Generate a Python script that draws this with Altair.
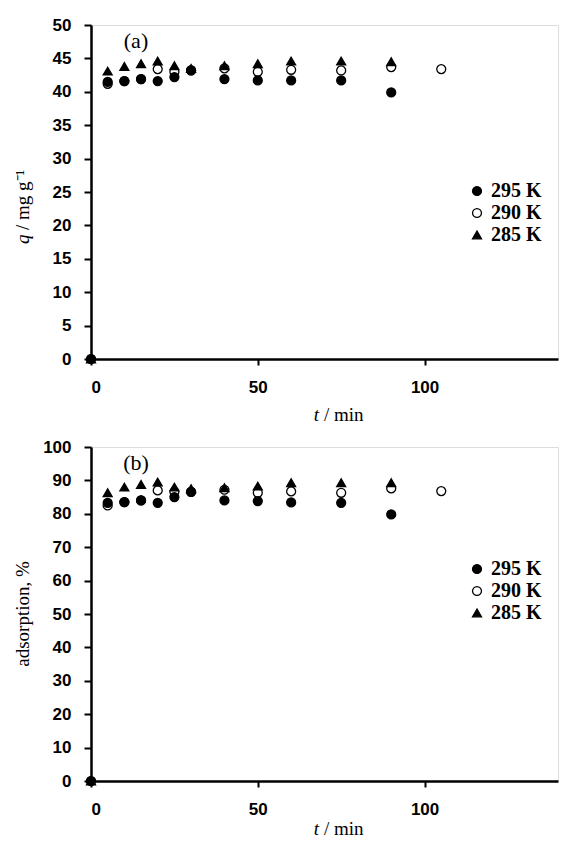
import altair as alt
import pandas as pd

# time points (min)
t_295 = [0, 5, 10, 15, 20, 25, 30, 40, 50, 60, 75, 90]
t_290 = [0, 5, 10, 15, 20, 25, 30, 40, 50, 60, 75, 90, 105]
t_285 = [0, 5, 10, 15, 20, 25, 30, 40, 50, 60, 75, 90]

# (a) q / mg g-1
q_295 = [0, 41.5, 41.6, 41.9, 41.6, 42.2, 43.2, 41.9, 41.7, 41.7, 41.7, 39.9]
q_290 = [0, 41.2, 41.6, 41.9, 43.4, 43.0, 43.2, 43.5, 43.0, 43.3, 43.2, 43.7, 43.4]
q_285 = [0, 43.1, 43.8, 44.2, 44.6, 43.9, 43.5, 43.9, 44.2, 44.6, 44.6, 44.5]

# (b) adsorption, %
a_295 = [0, 83.3, 83.5, 84.0, 83.3, 85.0, 86.6, 84.0, 83.8, 83.4, 83.3, 79.8]
a_290 = [0, 82.5, 83.5, 84.0, 87.0, 86.6, 86.6, 87.2, 86.3, 86.7, 86.3, 87.6, 86.8]
a_285 = [0, 86.3, 88.0, 88.8, 89.5, 88.0, 87.5, 87.8, 88.3, 89.3, 89.3, 89.3]

series = ["295 K", "290 K", "285 K"]
draw_order = {"290 K": 0, "285 K": 1, "295 K": 2}


def make_df(vals):
    rows = []
    for name, ts, vs in zip(series, [t_295, t_290, t_285], vals):
        for t, v in zip(ts, vs):
            rows.append({"t": t, "v": v, "series": name, "o": draw_order[name]})
    return pd.DataFrame(rows).sort_values("o", kind="stable")


W, H = 467, 334
serif = "Liberation Serif"
sans = "Arial, Liberation Sans, sans-serif"


def txt(s, x, y, italic=False, angle=0, align="center", size=19):
    kw = dict(font=serif, fontSize=size, color="black", align=align,
              baseline="middle", angle=angle)
    if italic:
        kw["fontStyle"] = "italic"
    return alt.Chart(pd.DataFrame({"s": [s]})).mark_text(**kw).encode(
        text="s:N", x=alt.value(x), y=alt.value(y))


def panel(df, ymax, ystep, ytitle_parts, tag, legend_y, xt_y):
    shape_scale = alt.Scale(domain=series, range=["circle", "circle", "triangle-up"])
    fill_scale = alt.Scale(domain=series, range=["black", "white", "black"])
    stroke_scale = alt.Scale(domain=series, range=["black", "black", "black"])
    legend = alt.Legend(
        title=None, orient="none", legendX=376, legendY=legend_y,
        labelFont=serif, labelFontWeight="bold", labelFontSize=20,
        labelColor="black", symbolStrokeWidth=1.3,
        symbolSize=80, rowPadding=2, labelOffset=4,
    )
    pts = alt.Chart(df).mark_point(
        filled=True, strokeWidth=1.3, opacity=1, size=80
    ).encode(
        x=alt.X("t:Q", scale=alt.Scale(domain=[0, 140], nice=False),
                axis=alt.Axis(values=[0, 50, 100], title=None,
                              labelFont=sans, labelFontWeight="bold",
                              labelFontSize=17, labelColor="black",
                              domainColor="black", domainWidth=2.5,
                              tickColor="black", tickWidth=2,
                              tickSize=6, grid=False, labelPadding=14)),
        y=alt.Y("v:Q", scale=alt.Scale(domain=[0, ymax], nice=False),
                axis=alt.Axis(values=list(range(0, ymax + 1, ystep)), title=None,
                              labelFont=sans, labelFontWeight="bold",
                              labelFontSize=17, labelColor="black",
                              domainColor="black", domainWidth=2.5,
                              tickColor="black", tickWidth=2, tickSize=7,
                              grid=False, labelPadding=13)),
        shape=alt.Shape("series:N", scale=shape_scale, legend=legend, sort=series),
        fill=alt.Fill("series:N", scale=fill_scale, legend=legend, sort=series),
        stroke=alt.Stroke("series:N", scale=stroke_scale, legend=legend, sort=series),
        order=alt.Order("o:Q"),
    )
    layers = [pts, txt(tag, 45, 16, size=22),
              txt("t", 228, xt_y, italic=True, align="right"),
              txt("/ min", 233, xt_y, align="left")]
    layers += ytitle_parts
    return alt.layer(*layers).properties(width=W, height=H)


ya = [txt("q", -68, 219, italic=True, angle=270, align="left"),
      txt("/ mg g\u207b\u00b9", -68, 205, angle=270, align="left")]
yb = [txt("adsorption, %", -68, 167, angle=270, align="center")]

pa = panel(make_df([q_295, q_290, q_285]), 50, 5, ya, "(a)", 156, 390)
pb = panel(make_df([a_295, a_290, a_285]), 100, 10, yb, "(b)", 112, 382)

chart = alt.vconcat(pa, pb, spacing=11).resolve_scale(
    shape="independent", fill="independent", stroke="independent"
).configure_view(stroke=None).configure(
    padding={"left": 5, "top": 7, "right": 0, "bottom": 0})

chart.save("out.html", embed_options={"renderer": "svg", "actions": False})
